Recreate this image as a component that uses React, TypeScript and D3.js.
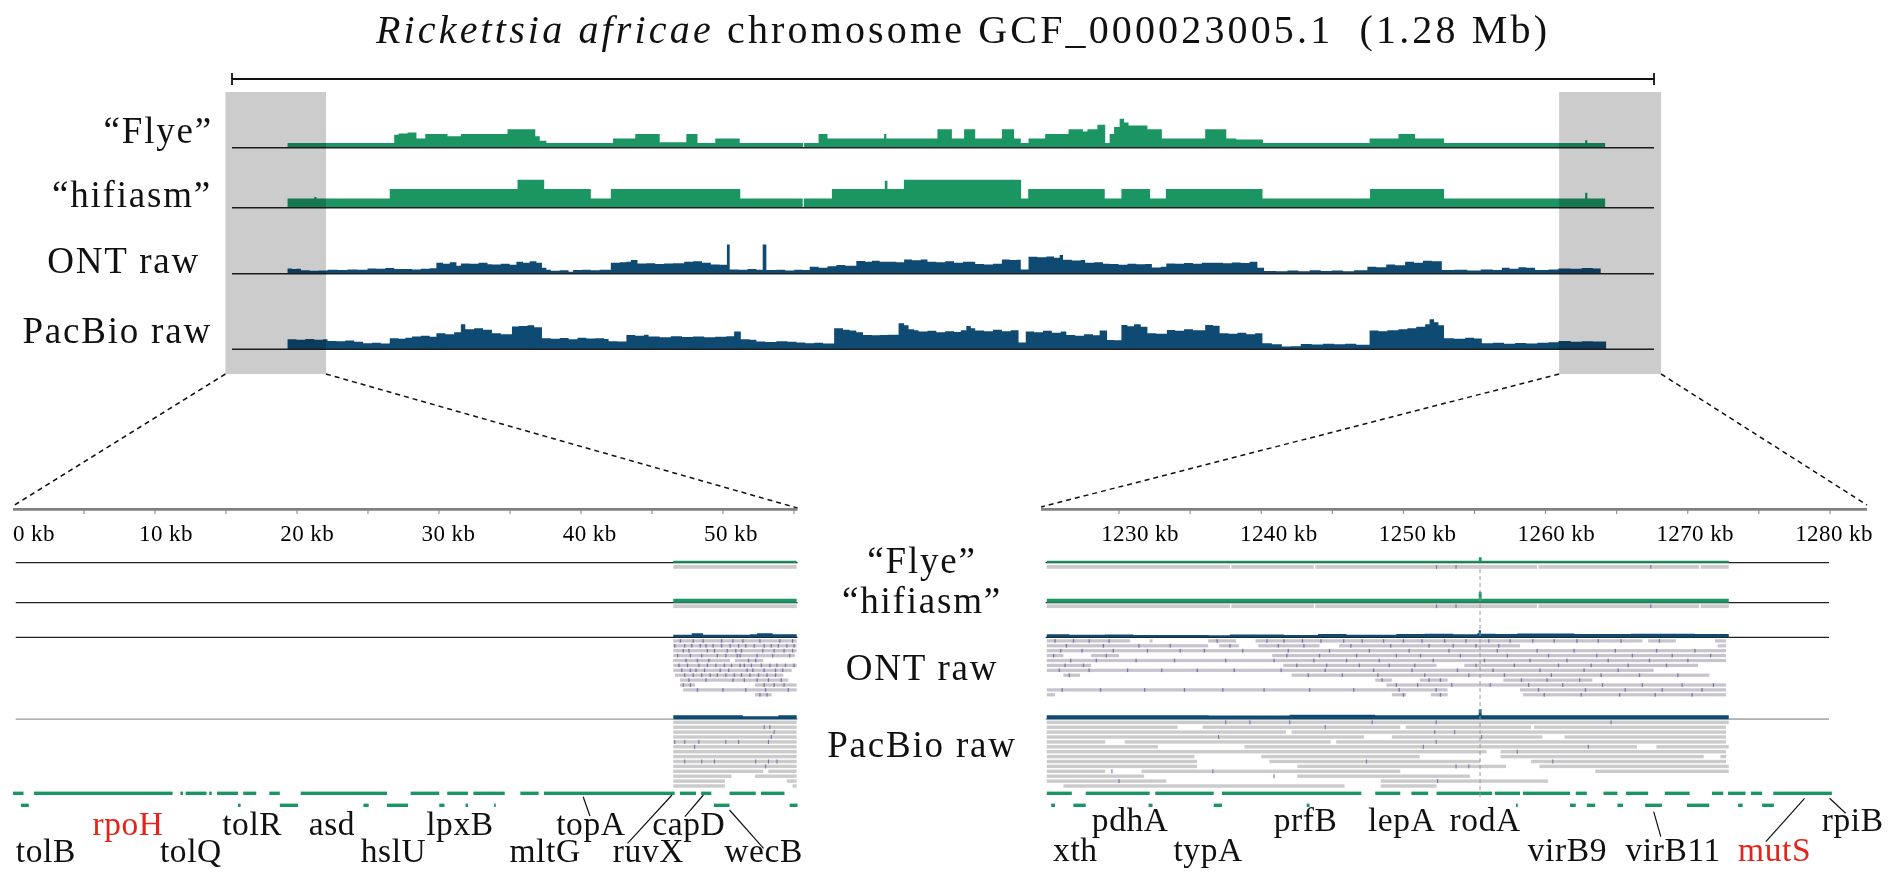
import React from "react";
import * as d3 from "d3";

// ---------- overview coverage (position in kb, depth) ----------
const GENOME_KB = 1280;

const FLYE_TOP: [number, number][] = [
  [50, 1], [142, 1], [146, 2.8], [150, 3.1], [158, 3.3], [166, 2], [174, 3], [194, 2.5], [206, 3],
  [248, 4], [273, 2.5], [277, 1.5], [283, 1], [343, 2], [363, 3], [385, 1.2], [409, 3], [419, 1],
  [435, 2], [457, 1], [514, 0], [515, 1], [528, 3], [536, 2], [587, 3], [589, 2], [635, 4], [648, 2],
  [659, 4], [669, 2], [693, 4], [704, 2], [710, 1], [717, 2], [732, 3], [753, 4], [766, 3.5], [770, 4],
  [779, 5], [786, 1], [790, 3], [794, 4.5], [799, 6.3], [803, 5.5], [807, 4.8], [824, 4], [837, 2],
  [876, 4], [895, 2], [904, 1.8], [928, 1], [1024, 2], [1050, 3], [1065, 2], [1091, 1], [1218, 1.6],
  [1220, 1], [1236, 1],
];

const HIFI_TOP: [number, number][] = [
  [50, 1], [74, 1.15], [76, 1], [142, 2], [257, 3], [281, 2], [323, 1], [341, 2], [457.5, 1],
  [513.7, 0], [514.7, 1], [540, 2], [587.6, 2.9], [590, 2], [604.8, 3], [710.3, 1], [716.7, 2],
  [785.6, 1], [800.6, 2], [826.4, 1], [840.6, 2], [927.6, 1], [1024.4, 2], [1091, 1], [1218, 1.6],
  [1220, 1], [1236, 1],
];

const ONT_TOP: [number, number][] = [
  [50, 5.3], [54, 4.7], [58, 5], [62, 3.5], [70, 3], [78, 3.3], [86, 4], [95, 3.6], [104, 4.2], [113, 4],
  [122, 5.3], [130, 5], [138, 5.6], [146, 4.8], [154, 4.7], [162, 4.2], [170, 5], [178, 5.5], [184, 11],
  [190, 10], [196, 11.5], [202, 8], [206, 10.3], [214, 10], [222, 11], [230, 9.5], [234, 9.3], [242, 10],
  [250, 9], [256, 12], [262, 11], [268, 12.5], [274, 11], [279, 6], [283, 4], [287, 3], [295, 3.5],
  [303, 2], [307, 3.7], [315, 4], [323, 3.4], [331, 4], [341, 11], [349, 11.5], [355, 12], [359, 13.7],
  [365, 10.3], [373, 10.5], [381, 9.8], [389, 10.3], [397, 10.5], [407, 12], [415, 12.5], [423, 11],
  [431, 9.3], [439, 9], [445.5, 29.3], [448, 4.3], [456, 4], [464, 4.8], [472, 4], [477.7, 29.3],
  [481, 3.7], [490, 4], [498, 3.2], [506, 4], [514, 3.7], [520, 7], [528, 6], [536, 7.5], [544, 8.7],
  [552, 8], [562, 12.7], [570, 12], [576, 13], [583, 12], [590, 12], [598, 11.5], [605, 14.3],
  [612, 13.5], [620, 14.3], [626, 12], [634, 11.5], [642, 12.5], [650, 11], [658, 12], [669, 9.7],
  [677, 9.2], [685, 10], [693, 14.3], [700, 13.8], [706, 14], [710, 4.3], [717, 17], [725, 16.5],
  [733, 17.2], [740, 16], [745, 18.7], [748, 14], [756, 13.2], [764, 13.7], [768, 11], [776, 11.5],
  [784, 10], [790, 9.7], [798, 9], [806, 10], [814, 9.5], [822, 9.8], [828, 6.3], [836, 7], [841, 10.3],
  [849, 10], [857, 10.8], [865, 10], [873, 11], [884, 11], [892, 10.5], [900, 11.2], [908, 10.6],
  [916, 12], [923, 6], [929, 2.7], [940, 2.4], [950, 3.2], [960, 2.5], [970, 3.5], [980, 2.7],
  [990, 3.1], [1000, 2.5], [1010, 3.4], [1022, 7], [1030, 6.5], [1039, 9.3], [1047, 8.5], [1056, 12],
  [1064, 11], [1072, 13], [1080, 12.5], [1089, 3.7], [1100, 4], [1112, 3.3], [1124, 4.2], [1135, 3.8],
  [1143, 6], [1150, 5], [1158, 6.5], [1165, 6], [1173, 3.7], [1185, 4.2], [1194, 5.3], [1205, 5],
  [1215, 5.6], [1225, 5.2], [1232, 5],
];

const PACBIO_TOP: [number, number][] = [
  [50, 10], [58, 9.5], [66, 10.2], [74, 9.6], [82, 10], [86, 8.3], [94, 8], [102, 8.8], [110, 7.5],
  [118, 6], [126, 6.5], [134, 5.8], [142, 11], [150, 10.5], [156, 11.5], [162, 12.7], [170, 13.5],
  [178, 12.5], [184, 16], [192, 15], [200, 17], [206, 25], [210, 20], [218, 21], [226, 19.5], [234, 16],
  [242, 15], [252, 22.7], [258, 23.3], [266, 24], [272, 22], [279, 11], [287, 10.5], [295, 11.2],
  [303, 10], [311, 11.5], [319, 10.8], [327, 11], [335, 10.4], [339, 8], [347, 7.7], [355, 14.3],
  [363, 13.5], [371, 14.5], [375, 12.7], [385, 12], [395, 13], [405, 12.2], [415, 12.8], [425, 12],
  [435, 12.6], [445, 13], [452, 17.7], [458, 10], [466, 9.5], [472, 7.7], [480, 7.2], [490, 8],
  [500, 7.5], [508, 6.8], [516, 6], [524, 6.5], [532, 5.7], [542, 21], [550, 19.5], [556, 18.7],
  [562, 17], [568, 14.3], [576, 14], [583, 14.3], [590, 14.5], [600, 26], [605, 24], [609, 20],
  [614, 19], [618, 17.7], [626, 18.5], [634, 17], [642, 18], [650, 17.2], [656, 19], [661, 23.3],
  [665, 21], [669, 18.7], [677, 18], [685, 19.5], [693, 18], [701, 19], [708, 6.7], [714.5, 17.7],
  [722, 17], [730, 18.5], [738, 16.5], [746, 17.7], [751, 14.3], [759, 13.5], [767, 15], [775, 14],
  [781, 18.7], [787.7, 9.3], [794, 9], [800.6, 24.3], [806, 23], [812, 25], [818, 22.5], [824, 16],
  [832, 15.5], [841.5, 19.3], [849, 18.5], [857, 20], [865, 19], [876, 24.3], [883, 23.5], [889, 16],
  [897, 15.5], [905, 16.5], [913, 15], [921, 16], [927.5, 6], [936, 5], [945, 2.7], [953, 3],
  [962, 5.3], [972, 4.8], [982, 5.6], [992, 5], [1002, 5.5], [1012, 4.6], [1024, 18.7], [1032, 18],
  [1040, 19], [1050, 20], [1058, 21], [1066, 22.5], [1074, 25], [1078, 30], [1082, 27], [1086, 24],
  [1091, 11], [1100, 10.5], [1110, 11.5], [1118, 10.8], [1125, 6], [1135, 6.5], [1145, 5.5],
  [1155, 6.2], [1165, 5.8], [1175, 6.6], [1185, 7], [1194, 8.3], [1205, 7.5], [1215, 8], [1225, 7.8],
  [1236.9, 7.5],
];

// zoomed regions drawn as grey boxes on the overview (kb)
const ZOOM_BOXES: [number, number][] = [[-5.9, 84.6], [1194.6, 1286.4]];

// ---------- zoom panels ----------
const LEFT_TICKS = [5, 10, 15, 20, 25, 30, 35, 40, 45, 50, 55];
const LEFT_LABELS = [0, 10, 20, 30, 40, 50];
const RIGHT_TICKS = [1230, 1235, 1240, 1245, 1250, 1255, 1260, 1265, 1270, 1275, 1280];
const RIGHT_LABELS = [1230, 1240, 1250, 1260, 1270, 1280];

const ASM_L: [number, number][] = [[46.5, 55.19]];
const ASM_R: [number, number][] = [
  [1224.92, 1237.8], [1237.9, 1243.7], [1243.8, 1259.4], [1259.5, 1270.8], [1270.9, 1272.88],
];
const ASM_MARKS_R = [1252.33, 1253.7, 1267.4];

const FLYE_COV_L: [number, number][] = [[46.5, 2], [55.19, 2]];
const FLYE_COV_R: [number, number][] = [[1224.92, 2], [1255.2, 2], [1255.3, 5.5], [1255.5, 2], [1272.88, 2]];
const HIFI_COV_L: [number, number][] = [[46.5, 4], [55.19, 4]];
const HIFI_COV_R: [number, number][] = [[1224.92, 4], [1255.2, 4], [1255.3, 11], [1255.5, 4], [1272.88, 4]];
const ONT_COV_L: [number, number][] = [
  [46.5, 2.5], [47.8, 4], [48.6, 2.5], [51.9, 3], [52.4, 4], [53.5, 3], [55.19, 3],
];
const ONT_COV_R: [number, number][] = [
  [1224.92, 3], [1226.5, 2.5], [1229, 2.7], [1231, 2.4], [1236.3, 2], [1237.8, 2.8], [1241.6, 2.4],
  [1244, 3.2], [1246, 2.6], [1249.5, 3.2], [1251.5, 3.5], [1253.5, 3], [1255.2, 4], [1255.3, 7],
  [1255.45, 3.5], [1256.5, 3.4], [1258, 3.8], [1262, 3.4], [1266, 3.6], [1270.5, 3.2], [1272.88, 3],
];
const PAC_COV_L: [number, number][] = [[46.5, 4], [51.4, 3], [53.9, 4], [55.19, 4]];
const PAC_COV_R: [number, number][] = [
  [1224.92, 4], [1236.3, 3.8], [1242, 4.5], [1248, 4], [1255.2, 4.2], [1255.3, 10], [1255.5, 4], [1272.88, 4],
];

const ONT_READS_L: [number, number][][] = [
  [[46.5, 55.19]], [[46.5, 55.19]], [[46.5, 55.19]], [[46.5, 55.07]], [[46.5, 50.5], [50.85, 52.84]],
  [[46.5, 55.19]], [[46.5, 54.84]], [[46.62, 54.25]], [[46.97, 54.6]], [[46.97, 48.03], [52.25, 55.19]],
  [[47.2, 55.19]], [[52.25, 53.43]],
];
const ONT_MARKS_L: number[][] = [
  [47.0, 47.9, 48.6, 49.9, 50.7, 51.4, 52.6, 54.0, 54.9],
  [46.6, 47.3, 47.8, 48.4, 48.8, 49.3, 49.9, 50.5, 51.1, 51.6, 52.2, 52.9, 53.4, 53.9, 54.5, 55.0],
  [47.2, 47.6, 48.9, 49.4, 50.3, 50.9, 51.3, 52.8, 53.6, 54.3, 54.9],
  [46.8, 47.7, 48.5, 49.6, 50.2, 51.0, 51.2, 52.4, 53.5, 54.7],
  [47.4, 48.2, 49.0, 51.8, 52.3],
  [46.9, 47.5, 48.3, 48.9, 49.5, 50.1, 50.6, 51.2, 51.5, 52.0, 52.7, 53.3, 53.8, 54.4, 55.0],
  [47.1, 47.7, 48.1, 48.7, 49.8, 50.4, 51.7, 52.1, 52.9, 53.7, 54.2],
  [47.3, 47.9, 48.5, 49.1, 49.6, 50.2, 50.8, 51.3, 51.9, 52.5, 53.1, 53.7],
  [47.6, 48.8, 50.7, 51.5, 52.4, 53.2, 54.1],
  [47.2, 47.7, 52.9, 53.6, 54.3],
  [48.2, 50.0, 51.6, 53.0, 54.6],
  [52.6, 53.1],
];
const PAC_READS_L: [number, number][][] = [
  [[46.5, 55.19]], [[46.5, 55.19]], [[46.5, 55.19]], [[46.5, 55.19]], [[46.5, 55.19]],
  [[46.5, 55.19]], [[46.5, 55.19]], [[46.5, 55.19]], [[46.5, 55.19]], [[46.5, 55.19]],
  [[46.5, 52.84], [53.19, 55.19]], [[46.5, 50.6], [52.25, 55.19]], [[46.5, 50.14], [54.5, 55.19]],
  [[46.5, 50.14], [54.9, 55.19]],
];
const PAC_MARKS_L: [number, number][] = [
  [1, 52.9], [1, 53.3], [2, 53.6], [3, 53.4], [4, 46.6], [4, 47.3], [4, 48.3], [4, 50.2], [4, 51.1],
  [4, 53.2], [5, 48.0], [8, 47.3], [8, 48.5], [8, 49.4], [8, 52.3], [8, 53.2], [8, 53.8], [9, 53.0],
];

const ONT_READS_R: [number, number][][] = [
  [[1224.92, 1230.79], [1232.16, 1232.36], [1236.27, 1238.23], [1239.6, 1266.81], [1267.21, 1269.16], [1271.91, 1272.69]],
  [[1224.92, 1236.27], [1237.05, 1238.42], [1239.8, 1244.1], [1245.47, 1258.2], [1272.1, 1272.69]],
  [[1224.92, 1272.69]],
  [[1224.92, 1226.09], [1228.04, 1230.0], [1240.77, 1272.69]],
  [[1224.92, 1272.69]],
  [[1224.92, 1228.04], [1241.55, 1252.33], [1254.28, 1270.73]],
  [[1224.92, 1267.6]],
  [[1226.09, 1227.26], [1242.14, 1271.51]],
  [[1248.02, 1249.19], [1251.15, 1253.11], [1257.03, 1263.29]],
  [[1248.8, 1272.69]],
  [[1224.92, 1253.11], [1258.2, 1272.69]],
  [[1224.92, 1225.5], [1249.19, 1250.2], [1251.93, 1253.11], [1258.4, 1272.69]],
];
const ONT_MARKS_R: number[][] = [
  [1225.5, 1226.8, 1227.9, 1229.3, 1236.9, 1240.4, 1241.6, 1242.9, 1244.2, 1245.8, 1247.1, 1248.6, 1250.0, 1251.3, 1252.9, 1254.4, 1256.0, 1257.5, 1259.1, 1260.6, 1262.2, 1263.7, 1265.3, 1268.0],
  [1226.3, 1228.9, 1231.4, 1233.6, 1237.8, 1241.2, 1243.0, 1246.3, 1249.1, 1251.8, 1253.5, 1255.1, 1256.7],
  [1225.9, 1227.4, 1229.6, 1232.0, 1234.3, 1236.0, 1238.7, 1241.9, 1244.8, 1247.6, 1250.4, 1253.2, 1256.6, 1259.4, 1262.0, 1264.9, 1267.8, 1270.5],
  [1225.4, 1229.1, 1241.8, 1244.1, 1246.7, 1249.5, 1251.2, 1254.0, 1257.3, 1260.2, 1263.6, 1266.1, 1268.9, 1271.6],
  [1226.6, 1228.4, 1231.2, 1233.9, 1237.5, 1240.9, 1243.7, 1246.0, 1248.3, 1252.1, 1255.7, 1258.9, 1261.5, 1264.4, 1267.3, 1270.0],
  [1226.2, 1227.5, 1242.5, 1244.6, 1246.9, 1249.0, 1250.8, 1255.1, 1257.8, 1260.9, 1263.2, 1265.8, 1268.5],
  [1225.8, 1227.9, 1230.6, 1233.0, 1235.5, 1238.1, 1241.4, 1244.5, 1247.9, 1250.6, 1253.8, 1256.3, 1259.6, 1262.7, 1265.1],
  [1226.5, 1243.3, 1245.7, 1248.2, 1251.5, 1254.6, 1257.1, 1260.4, 1263.9, 1266.6, 1269.3],
  [1248.5, 1251.8, 1252.6, 1258.3, 1260.1, 1262.4],
  [1249.5, 1251.0, 1253.4, 1256.1, 1258.8, 1261.2, 1264.0, 1266.8, 1269.6, 1271.8],
  [1226.0, 1228.7, 1231.8, 1234.6, 1237.3, 1240.2, 1243.4, 1246.5, 1249.7, 1252.3, 1259.5, 1262.8, 1265.6, 1268.2, 1271.0],
  [1250.0, 1252.6, 1259.9, 1262.5, 1265.2, 1267.7, 1270.3],
];
const PAC_READS_R: [number, number][][] = [
  [[1224.92, 1272.88]],
  [[1224.92, 1234.12], [1235.88, 1249.78], [1250.17, 1258.98], [1259.18, 1272.69]],
  [[1224.92, 1241.75], [1242.14, 1272.69]],
  [[1224.92, 1247.24], [1249.19, 1259.77], [1261.33, 1272.69]],
  [[1224.92, 1229.03], [1230.4, 1244.89], [1245.27, 1272.69]],
  [[1224.92, 1232.74], [1238.82, 1266.42], [1267.79, 1272.88]],
  [[1224.92, 1255.85], [1256.83, 1272.69]],
  [[1224.92, 1235.3], [1240.0, 1251.15], [1256.83, 1271.12], [1272.29, 1272.69]],
  [[1224.92, 1235.49], [1240.58, 1255.4], [1258.98, 1272.69]],
  [[1224.92, 1235.49], [1242.54, 1257.22], [1259.57, 1272.88]],
  [[1224.92, 1229.03], [1231.58, 1249.78], [1263.49, 1272.88]],
  [[1224.92, 1231.77], [1242.54, 1254.68]],
  [[1224.92, 1233.33], [1248.41, 1260.16]],
  [[1226.09, 1245.86], [1248.41, 1252.33]],
];
const PAC_MARKS_R: [number, number][] = [
  [0, 1237.5], [0, 1239.2], [0, 1242.0], [0, 1247.8], [0, 1252.3], [0, 1264.6], [1, 1244.5], [2, 1252.2],
  [2, 1253.6], [3, 1237.0], [3, 1255.5], [4, 1252.3], [5, 1251.4], [5, 1263.0], [6, 1258.0], [8, 1247.4],
  [8, 1260.5], [9, 1253.7], [9, 1254.6], [10, 1229.5], [10, 1236.6], [11, 1240.9], [12, 1230.0], [12, 1252.4],
];

const GENES_L: [number, number][][] = [
  [[0, 0.74], [1.48, 11.24], [11.79, 11.97], [12.16, 13.63], [13.82, 14.0], [14.37, 15.85], [16.21, 17.13],
   [18.05, 18.79], [20.26, 26.34], [28.0, 30.02], [30.58, 32.04], [32.42, 34.63], [35.73, 37.02],
   [37.39, 46.6], [46.97, 48.1], [48.46, 49.18], [50.46, 52.31], [52.68, 54.33]],
  [[0.56, 1.11], [15.85, 16.03], [18.79, 20.07], [24.68, 25.05], [26.34, 27.82], [30.02, 30.39],
   [31.87, 32.04], [33.89, 34.0], [49.36, 50.46], [54.7, 55.25]],
];
const GENES_R: [number, number][][] = [
  [[1224.92, 1226.68], [1227.66, 1232.16], [1232.55, 1236.66], [1237.24, 1247.04], [1248.02, 1249.78],
   [1250.56, 1251.74], [1252.33, 1256.24], [1256.43, 1258.2], [1258.4, 1261.72], [1262.12, 1262.9],
   [1264.07, 1265.05], [1265.65, 1267.21], [1268.38, 1270.13], [1271.7, 1272.49], [1272.83, 1274.06],
   [1274.44, 1275.23], [1276.01, 1280.13]],
  [[1225.23, 1225.5], [1226.79, 1227.66], [1232.08, 1232.36], [1236.66, 1237.24], [1243.2, 1243.4],
   [1257.92, 1258.04], [1261.72, 1262.12], [1262.9, 1263.49], [1265.05, 1265.44], [1267.0, 1268.18],
   [1269.94, 1271.51], [1273.54, 1273.86], [1275.23, 1276.05]],
];

// gene name, label centre (kb), tier (0 upper, 1 lower)
const LABELS_L: [string, number, number][] = [
  ["rpoH", 8.1, 0], ["tolR", 16.85, 0], ["asd", 22.46, 0], ["lpxB", 31.48, 0], ["topA", 40.7, 0], ["capD", 47.6, 0],
  ["tolB", 2.31, 1], ["tolQ", 12.53, 1], ["hslU", 26.8, 1], ["mltG", 37.47, 1], ["ruvX", 44.75, 1], ["wecB", 52.86, 1],
];
const LABELS_R: [string, number, number][] = [
  ["pdhA", 1230.79, 0], ["prfB", 1243.12, 0], ["lepA", 1249.88, 0], ["rodA", 1255.75, 0], ["rpiB", 1281.6, 0],
  ["xth", 1226.93, 1], ["typA", 1236.27, 1], ["virB9", 1261.53, 1], ["virB11", 1268.97, 1], ["mutS", 1276.11, 1],
];
const HIGHLIGHT = ["rpoH", "mutS"];
// leader lines: gene kb -> label kb
const LEADERS_L: [number, number, number, number][] = [
  [40.155, 796.7, 40.63, 816], [46.41, 795, 43.28, 843.3], [48.62, 795, 47.32, 816.7], [50.46, 810, 52.86, 848.3],
];
const LEADERS_R: [number, number, number, number][] = [
  [1267.6, 811.7, 1268.1, 836.7], [1278.21, 798.3, 1275.49, 841.7], [1279.97, 798.3, 1281.1, 813.3],
];

const TRACK_NAMES = ["\u201cFlye\u201d", "\u201chifiasm\u201d", "ONT raw", "PacBio raw"];

const GREEN = "#1b9663";
const BLUE = "#0f4a72";
const READ = "#cbcbcb";
const ONT_READ = "#c7c4cd";
const MARK = "#7f72aa";
const FONT = '"Liberation Serif", "Times New Roman", serif';

function covPath(data: [number, number][], x: any, base: number, unit: number) {
  return d3.area<[number, number]>()
    .x(d => x(d[0]))
    .y0(base)
    .y1(d => base - d[1] * unit)
    .curve(d3.curveStepAfter)(data) || "";
}

function Reads({ rows, x, top, step, h, fill }: any) {
  return (
    <g>
      {rows.map((segs: [number, number][], i: number) =>
        segs.map(([a, b], j) => (
          <rect key={i + "-" + j} x={x(a)} y={top + i * step} width={Math.max(1, x(b) - x(a))} height={h} fill={fill} />
        ))
      )}
    </g>
  );
}

export default function App() {
  const W = 1903, H = 875;
  const xTop = d3.scaleLinear().domain([0, GENOME_KB]).range([232, 1654]);
  const xL = d3.scaleLinear().domain([0, 55.2]).range([13, 796.8]);
  const xR = d3.scaleLinear().domain([1230, 1280]).range([1119, 1830]);
  const labL = d3.scaleLinear().domain([10, 50]).range([166, 731]);
  const labR = d3.scaleLinear().domain([1230, 1280]).range([1140, 1834]);

  const topTracks = [
    { data: FLYE_TOP, base: 147.7, unit: 4.6, color: GREEN, lx: 213, ly: 143 },
    { data: HIFI_TOP, base: 207.7, unit: 9.3, color: GREEN, lx: 212, ly: 207 },
    { data: ONT_TOP, base: 273.7, unit: 1, color: BLUE, lx: 200, ly: 273 },
    { data: PACBIO_TOP, base: 349.3, unit: 1, color: BLUE, lx: 212, ly: 343 },
  ];

  const ontTop = 639.3, pacTop = 720.6, rowStep = 4.9;
  const geneY = [791.6, 803.6];

  const panel = (x: any, side: "L" | "R") => {
    const L = side === "L";
    const lineStart = L ? 0.19 : 1224.84;
    const lineEnd = L ? 55.25 : 1279.93;
    const axisStart = L ? 0 : 1224.52;
    const axisEnd = L ? 55.25 : 1282.6;
    const ticks = L ? LEFT_TICKS : RIGHT_TICKS;
    const asm = L ? ASM_L : ASM_R;
    const lines = [562.7, 602.7, 637.3, 719.2];
    return (
      <g>
        <line x1={x(axisStart)} x2={x(axisEnd)} y1={509.3} y2={509.3} stroke="#808080" strokeWidth={2.8} />
        {ticks.map(t => (
          <line key={t} x1={x(t)} x2={x(t)} y1={509.3} y2={514} stroke="#808080" strokeWidth={1} />
        ))}
        {L
          ? LEFT_LABELS.map(v => (
              <text key={v} x={v === 0 ? 13 : labL(v)} y={541} fontSize={23} letterSpacing={0.4}
                textAnchor={v === 0 ? "start" : "middle"}>{v} kb</text>
            ))
          : RIGHT_LABELS.map(v => (
              <text key={v} x={labR(v)} y={541} fontSize={23} letterSpacing={0.4} textAnchor="middle">{v} kb</text>
            ))}
        {lines.map((y, i) => (
          <line key={i} x1={x(lineStart)} x2={x(lineEnd)} y1={y} y2={y}
            stroke={i === 3 ? "#9a9a9a" : "#222"} strokeWidth={1.3} />
        ))}
        {/* assembly contigs */}
        {[565, 604.3].map((y, k) =>
          asm.map(([a, b], j) => (
            <rect key={k + "-" + j} x={x(a)} y={y} width={x(b) - x(a)} height={3.8} fill={READ} />
          ))
        )}
        {!L && [565, 604.3].map((y, k) =>
          ASM_MARKS_R.map((m, j) => (
            <rect key={"am" + k + j} x={x(m) - 0.6} y={y} width={1.2} height={3.8} fill={MARK} />
          ))
        )}
        <path d={covPath(L ? FLYE_COV_L : FLYE_COV_R, x, 562.7, 1)} fill={GREEN} />
        <path d={covPath(L ? HIFI_COV_L : HIFI_COV_R, x, 602.7, 1)} fill={GREEN} />
        <path d={covPath(L ? ONT_COV_L : ONT_COV_R, x, 637.3, 1)} fill={BLUE} />
        <path d={covPath(L ? PAC_COV_L : PAC_COV_R, x, 719.2, 1)} fill={BLUE} />
        {/* reads */}
        <Reads rows={L ? ONT_READS_L : ONT_READS_R} x={x} top={ontTop} step={rowStep} h={3.2} fill={ONT_READ} />
        {(L ? ONT_MARKS_L : ONT_MARKS_R).map((row, i) =>
          row.map((m, j) => (
            <rect key={"om" + i + "-" + j} x={x(m) - 0.6} y={ontTop + i * rowStep - 0.2} width={1.3} height={3.6} fill={MARK} />
          ))
        )}
        <Reads rows={L ? PAC_READS_L : PAC_READS_R} x={x} top={pacTop} step={rowStep} h={3.4} fill={READ} />
        {(L ? PAC_MARKS_L : PAC_MARKS_R).map(([r, m], j) => (
          <rect key={"pm" + j} x={x(m) - 0.5} y={pacTop + r * rowStep - 0.3} width={1.1} height={4} fill={MARK} />
        ))}
        {/* genes */}
        {(L ? GENES_L : GENES_R).map((row, i) =>
          row.map(([a, b], j) => (
            <rect key={"g" + i + "-" + j} x={x(a)} y={geneY[i]} width={Math.max(1.2, x(b) - x(a))} height={3.4} fill={GREEN} />
          ))
        )}
        {(L ? LEADERS_L : LEADERS_R).map(([a, y1, b, y2], j) => (
          <line key={"ld" + j} x1={x(a)} y1={y1} x2={x(b)} y2={y2} stroke="#111" strokeWidth={1.2} />
        ))}
        {(L ? LABELS_L : LABELS_R).map(([name, kb, tier]) => (
          <text key={name} x={x(kb)} y={L ? (tier === 0 ? 835 : 861.5) : (tier === 0 ? 831 : 860.5)}
            fontSize={33.5} letterSpacing={0.6} textAnchor="middle"
            fill={HIGHLIGHT.includes(name) ? "#e3241b" : "#111"}>{name}</text>
        ))}
      </g>
    );
  };

  const boxBottom = 374;

  return (
    <svg width={W} height={H} fontFamily={FONT}
      style={{ position: "absolute", left: 0, top: 0, background: "#fff" }}>
      <rect width={W} height={H} fill="#fff" />
      {/* title */}
      <text x={961.5} y={43} fontSize={40} textAnchor="middle" textLength={1171} lengthAdjust="spacing" fill="#111">
        <tspan fontStyle="italic">Rickettsia africae</tspan>{" chromosome GCF_000023005.1\u00a0\u00a0(1.28 Mb)"}
      </text>
      <line x1={xTop(0)} x2={xTop(GENOME_KB)} y1={79} y2={79} stroke="#111" strokeWidth={1.8} />
      <line x1={xTop(0)} x2={xTop(0)} y1={73} y2={85} stroke="#111" strokeWidth={1.8} />
      <line x1={xTop(GENOME_KB)} x2={xTop(GENOME_KB)} y1={73} y2={85} stroke="#111" strokeWidth={1.8} />

      {/* overview tracks */}
      {topTracks.map((t, i) => (
        <g key={i}>
          <path d={covPath(t.data, xTop, t.base, t.unit)} fill={t.color} />
          <line x1={xTop(0)} x2={xTop(GENOME_KB)} y1={t.base} y2={t.base} stroke="#222" strokeWidth={1.6} />
          <text x={t.lx} y={t.ly} fontSize={37} letterSpacing={1.8} textAnchor="end" fill="#111">{TRACK_NAMES[i]}</text>
        </g>
      ))}
      {ZOOM_BOXES.map(([a, b], i) => (
        <rect key={i} x={xTop(a)} y={92} width={xTop(b) - xTop(a)} height={boxBottom - 92}
          fill="#cccccc" style={{ mixBlendMode: "multiply" }} />
      ))}

      {/* connectors */}
      <g stroke="#111" strokeWidth={1.5} strokeDasharray="5,4" fill="none">
        <line x1={xTop(ZOOM_BOXES[0][0])} y1={boxBottom} x2={xL(0)} y2={506} />
        <line x1={xTop(ZOOM_BOXES[0][1])} y1={boxBottom} x2={xL(55.25)} y2={508} />
        <line x1={xTop(ZOOM_BOXES[1][0])} y1={boxBottom} x2={xR(1224.52)} y2={507} />
        <line x1={xTop(ZOOM_BOXES[1][1])} y1={boxBottom} x2={xR(1282.6)} y2={505} />
      </g>

      {panel(xL, "L")}
      {panel(xR, "R")}

      {/* dashed marker at the assembly peak */}
      <line x1={xR(1255.39)} x2={xR(1255.39)} y1={569} y2={800} stroke="#9a9a9a" strokeWidth={1} strokeDasharray="4,3" />
      <line x1={xR(1272.88)} x2={xR(1279.93)} y1={719.2} y2={719.2} stroke="#b0b0b0" strokeWidth={1.2} />

      {/* middle track labels */}
      {TRACK_NAMES.map((n, i) => (
        <text key={n} x={922} y={[573, 613, 680, 757][i]} fontSize={37} letterSpacing={1.8}
          textAnchor="middle" fill="#111">{n}</text>
      ))}
    </svg>
  );
}
